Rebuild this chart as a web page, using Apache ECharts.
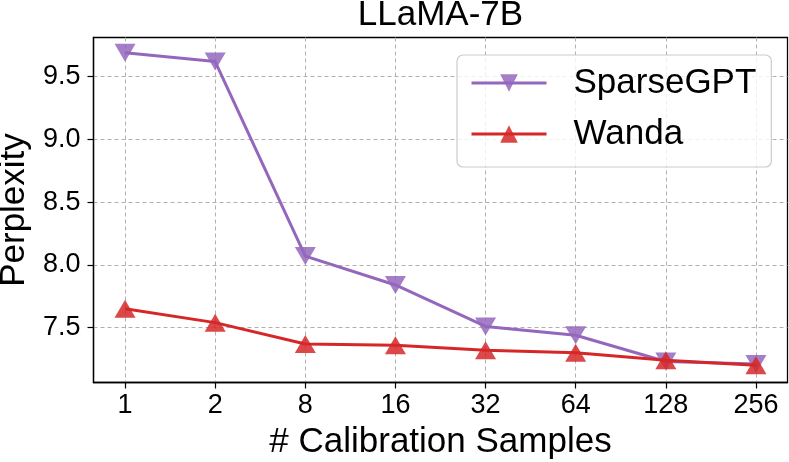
<!DOCTYPE html>
<html><head><meta charset="utf-8">
<script src="https://cdn.jsdelivr.net/npm/echarts@6/dist/echarts.min.js"></script>
<style>html,body{margin:0;padding:0;background:#fff}#c{width:789px;height:462px}</style>
</head><body><div id="c"></div>
<script>
const categories = ['1','2','8','16','32','64','128','256'];
const sparsegpt = [9.69, 9.62, 8.07, 7.84, 7.51, 7.44, 7.23, 7.21];
const wanda = [7.65, 7.54, 7.37, 7.36, 7.32, 7.30, 7.24, 7.20];
const yTicks = [7.5, 8.0, 8.5, 9.0, 9.5];

const FONT = 'Liberation Sans';
const xIdx = categories.map((_, i) => i);
const chart = echarts.init(document.getElementById('c'));
chart.setOption({
  animation: false,
  textStyle: {fontFamily: FONT},
  title: {text: 'LLaMA-7B', left: 440.5, textAlign: 'center', top: -3, padding: 0,
    textStyle: {fontFamily: FONT, fontSize: 35, fontWeight: 'normal', color: '#000', lineHeight: 36}},
  grid: {left: 93.5, right: 1.5, top: 37.5, bottom: 79.5, outerBoundsMode: 'none', containLabel: false,
    show: true, borderColor: '#000', borderWidth: 1.3, backgroundColor: 'transparent'},
  legend: {
    left: 457, top: 55, orient: 'vertical',
    backgroundColor: 'rgba(255,255,255,0.8)', borderColor: '#cccccc', borderWidth: 1.2, borderRadius: 6,
    padding: [10, 15, 15, 13], itemWidth: 75, itemHeight: 22, itemGap: 15,
    lineStyle: {width: 3},
    textStyle: {fontFamily: FONT, fontSize: 35, lineHeight: 36, color: '#000', padding: [0, 0, 0, 22]},
    data: ['SparseGPT', 'Wanda']
  },
  xAxis: {
    type: 'value', min: -0.35, max: 7.35,
    name: '# Calibration Samples', nameLocation: 'middle', nameGap: 38,
    nameTextStyle: {fontFamily: FONT, fontSize: 35, color: '#000'},
    axisLine: {show: true, onZero: false, lineStyle: {color: '#000', width: 1.3}},
    axisTick: {show: true, length: 6, lineStyle: {color: '#000', width: 1.2}, customValues: xIdx},
    axisLabel: {customValues: xIdx, fontFamily: FONT, fontSize: 27, color: '#000', margin: 10,
      formatter: v => categories[Math.round(v)] ?? ''},
    splitLine: {show: true, lineStyle: {color: '#b0b0b0', type: [4, 3], width: 1}}
  },
  yAxis: {
    type: 'value', min: 7.063, max: 9.812,
    name: 'Perplexity', nameLocation: 'middle', nameGap: 56,
    nameTextStyle: {fontFamily: FONT, fontSize: 35, color: '#000'},
    axisLine: {show: true, onZero: false, lineStyle: {color: '#000', width: 1.3}},
    axisTick: {show: true, length: 6, lineStyle: {color: '#000', width: 1.2}, customValues: yTicks},
    axisLabel: {customValues: yTicks, fontFamily: FONT, fontSize: 27, color: '#000', margin: 13,
      formatter: v => v.toFixed(1)},
    splitLine: {show: true, lineStyle: {color: '#b0b0b0', type: [4, 3], width: 1}}
  },
  series: [
    {name: 'SparseGPT', type: 'line', data: sparsegpt.map((v, i) => [i, v]),
      symbol: 'triangle', symbolRotate: 180, symbolSize: [21, 18],
      lineStyle: {color: '#9467bd', width: 3}, itemStyle: {color: '#9467bd', opacity: 0.85}, z: 2},
    {name: 'Wanda', type: 'line', data: wanda.map((v, i) => [i, v]),
      symbol: 'triangle', symbolSize: [21, 18],
      lineStyle: {color: '#d62728', width: 3}, itemStyle: {color: '#d62728', opacity: 0.85}, z: 3}
  ]
});
</script></body></html>
